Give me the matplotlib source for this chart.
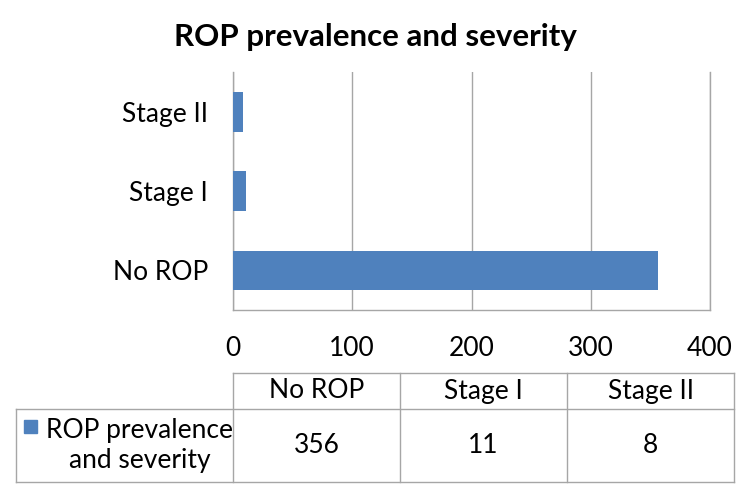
import matplotlib
matplotlib.use('Agg')
import matplotlib.pyplot as plt
from matplotlib.patches import Rectangle

plt.rcParams['font.family'] = ['Lato', 'DejaVu Sans']

# 数据
categories = ['No ROP', 'Stage I', 'Stage II']
values = [356, 11, 8]
series_name = 'ROP prevalence and severity'
legend_label = 'ROP prevalence\nand severity'
x_ticks = [0, 100, 200, 300, 400]

bar_color = '#4F81BD'
grid_color = '#A6A6A6'
fs = 19

fig = plt.figure(figsize=(7.5, 5), dpi=100)

# 主图 (像素位置换算)
ax = fig.add_axes([233 / 750, 1 - 310 / 500, 477 / 750, 238 / 500])
ax.barh(range(len(categories)), values, height=0.5, color=bar_color, zorder=3)
ax.set_xlim(0, 400)
ax.set_ylim(-0.5, len(categories) - 0.5)
ax.set_xticks(x_ticks)
ax.set_xticklabels([str(t) for t in x_ticks], fontsize=fs)
ax.set_yticks(range(len(categories)))
ax.set_yticklabels(categories, fontsize=fs)
ax.tick_params(axis='x', length=0, pad=19)
ax.tick_params(axis='y', length=0, pad=18)
ax.grid(axis='x', color=grid_color, linewidth=1, zorder=0)
ax.spines['top'].set_visible(False)
for s in ['left', 'bottom', 'right']:
    ax.spines[s].set_color(grid_color)
    ax.spines[s].set_linewidth(1)

fig.text(0.5, 1 - 37 / 500, series_name, ha='center', va='center',
         fontsize=22.5, fontweight='bold')

# 数据表 (像素坐标)
tab = fig.add_axes([0, 0, 1, 1])
tab.set_xlim(0, 750)
tab.set_ylim(500, 0)
tab.axis('off')

line_color = '#A6A6A6'
col_left, col_right = 233, 734
row_top, row_mid, row_bot = 373, 409, 482
tbl_left = 16
ncol = len(categories)
col_w = (col_right - col_left) / ncol

tab.plot([col_left, col_right], [row_top, row_top], color=line_color, lw=1)
tab.plot([tbl_left, col_right], [row_mid, row_mid], color=line_color, lw=1)
tab.plot([tbl_left, col_right], [row_bot, row_bot], color=line_color, lw=1)
tab.plot([tbl_left, tbl_left], [row_mid, row_bot], color=line_color, lw=1)
for i in range(ncol + 1):
    x = col_left + i * col_w
    tab.plot([x, x], [row_top, row_bot], color=line_color, lw=1)

for i, (cat, v) in enumerate(zip(categories, values)):
    cx = col_left + (i + 0.5) * col_w
    tab.text(cx, (row_top + row_mid) / 2, cat, ha='center', va='center', fontsize=fs)
    tab.text(cx, (row_mid + row_bot) / 2, str(v), ha='center', va='center', fontsize=fs)

tab.add_patch(Rectangle((24, 420), 13, 13, color=bar_color))
tab.text(140, (row_mid + row_bot) / 2, legend_label, ha='center', va='center',
         fontsize=fs, linespacing=1.25)

fig.savefig('out.png', dpi=100)
